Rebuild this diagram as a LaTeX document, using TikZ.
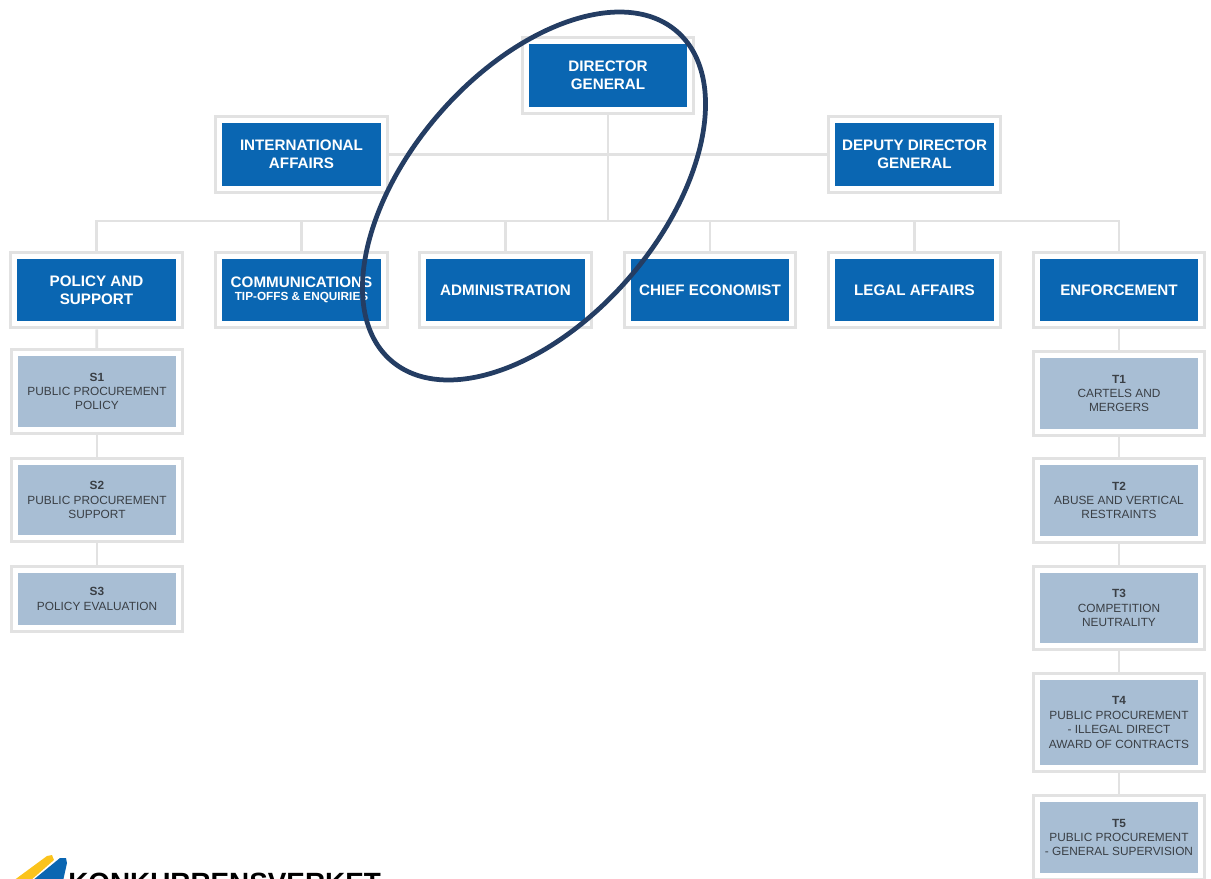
\documentclass[tikz,border=0pt]{standalone}
\usepackage{fontspec}
\setmainfont{Liberation Sans}
\definecolor{headblue}{HTML}{0A66B2}
\definecolor{subblue}{HTML}{A8BED4}
\definecolor{framegray}{HTML}{E2E2E2}
\definecolor{ringnavy}{HTML}{243D63}
\definecolor{logoyellow}{HTML}{FBC31C}
\definecolor{subtext}{HTML}{3A3F45}
\begin{document}
\begin{tikzpicture}[
        x=0.02cm, y=-0.02cm,
        framed/.style={
            inner sep=0pt, outer sep=0.16cm, align=center,
            preaction={draw=framegray, line width=0.32cm},
            preaction={draw=white, line width=0.2cm}
        },
        headbox/.style={
            framed, fill=headblue, text=white,
            minimum width=3.18cm, minimum height=1.26cm,
            font=\fontsize{8.65}{10.2}\selectfont\bfseries
        },
        subbox/.style={
            framed, fill=subblue, text=subtext,
            minimum width=3.17cm, minimum height=1.42cm,
            font=\fontsize{6.75}{8.2}\selectfont
        },
        link/.style={draw=framegray, line width=0.055cm},
        ring/.style={draw=ringnavy, line width=0.095cm}
    ]
    \clip (0,0) rectangle (1211,879);

    \node[headbox] (dg) at (608,75.5) {DIRECTOR\\GENERAL};
    \node[headbox] (intl) at (301.5,154.5) {INTERNATIONAL\\AFFAIRS};
    \node[headbox] (deputy) at (914.5,154.5) {DEPUTY DIRECTOR\\GENERAL};

    \node[headbox] (policy) at (96.5,290) {POLICY AND\\SUPPORT};
    \node[headbox] (comms) at (301.5,290) {COMMUNICATIONS\\[-2.5pt]{\fontsize{6.7}{7}\selectfont TIP-OFFS \& ENQUIRIES}};
    \node[headbox] (admin) at (505.5,290) {ADMINISTRATION};
    \node[headbox] (chief) at (710,290) {CHIEF ECONOMIST};
    \node[headbox] (legal) at (914.5,290) {LEGAL AFFAIRS};
    \node[headbox] (enforce) at (1119,290) {ENFORCEMENT};

    \node[subbox] (s1) at (97,391.5) {\textbf{S1}\\PUBLIC PROCUREMENT\\POLICY};
    \node[subbox] (s2) at (97,500) {\textbf{S2}\\PUBLIC PROCUREMENT\\SUPPORT};
    \node[subbox, minimum height=1.04cm] (s3) at (97,599) {\textbf{S3}\\POLICY EVALUATION};

    \node[subbox] (t1) at (1119,393.5) {\textbf{T1}\\CARTELS AND\\MERGERS};
    \node[subbox] (t2) at (1119,500.5) {\textbf{T2}\\ABUSE AND VERTICAL\\RESTRAINTS};
    \node[subbox] (t3) at (1119,608) {\textbf{T3}\\COMPETITION\\NEUTRALITY};
    \node[subbox, minimum height=1.7cm] (t4) at (1119,722.5) {\textbf{T4}\\PUBLIC PROCUREMENT\\- ILLEGAL DIRECT\\AWARD OF CONTRACTS};
    \node[subbox] (t5) at (1119,837.5) {\textbf{T5}\\PUBLIC PROCUREMENT\\- GENERAL SUPERVISION};

    \coordinate (bus) at (608,221);

    \draw[link] (intl) -- (deputy);
    \draw[link] (dg) -- (bus);
    \draw[link] (policy.north) |- (bus) -| (enforce.north);
    \draw[link] (comms.north) -- (comms.north |- bus);
    \draw[link] (admin.north) -- (admin.north |- bus);
    \draw[link] (chief.north) -- (chief.north |- bus);
    \draw[link] (legal.north) -- (legal.north |- bus);

    \draw[link] (policy) -- (s1);
    \draw[link] (s1) -- (s2);
    \draw[link] (s2) -- (s3);

    \draw[link] (enforce) -- (t1);
    \draw[link] (t1) -- (t2);
    \draw[link] (t2) -- (t3);
    \draw[link] (t3) -- (t4);
    \draw[link] (t4) -- (t5);

    \draw[ring] (534,196) circle [x radius=4.36cm, y radius=2.51cm, rotate=49];

    % logo at the lower edge
    \fill[logoyellow] (13,881) -- (47,856) -- (52,855) -- (54,860) -- (30,881) -- cycle;
    \fill[headblue] (32,881) -- (60,858) -- (66,858) -- (67,863) -- (63,881) -- cycle;
    \node[anchor=north west, inner sep=0pt, font=\fontsize{15.85}{19}\selectfont\bfseries] (logo) at (68,873) {KONKURRENSVERKET};
\end{tikzpicture}
\end{document}
